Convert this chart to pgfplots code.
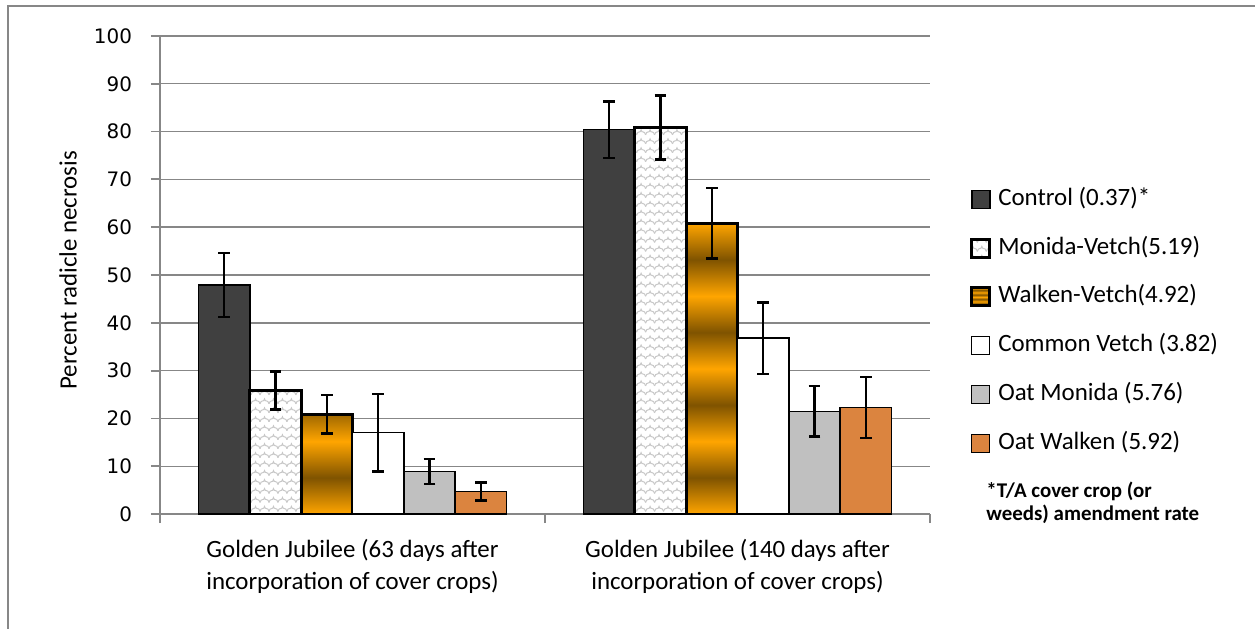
\documentclass[border=0pt]{standalone}
\usepackage{pgfplots}
\pgfplotsset{compat=1.18}
\usepackage{fontspec}
\setmainfont{Carlito}
\newfontfamily\tickfont{DejaVu Sans}
\usetikzlibrary{patterns}
\definecolor{ctrl}{HTML}{404040}
\definecolor{oatmon}{HTML}{C0C0C0}
\definecolor{oatwalk}{HTML}{DB843F}
\definecolor{wgold}{HTML}{FFA500}
\definecolor{wbrown}{HTML}{7F5300}
\definecolor{gridgray}{HTML}{878787}
\definecolor{scal}{HTML}{C8C8C8}
\pgfdeclareverticalshading{goldstripe}{100bp}{color(0bp)=(wgold); color(25bp)=(wgold); color(31.25bp)=(wbrown); color(37.5bp)=(wgold); color(43.75bp)=(wbrown); color(50bp)=(wgold); color(56.25bp)=(wbrown); color(62.5bp)=(wgold); color(68.75bp)=(wbrown); color(75bp)=(wgold); color(100bp)=(wgold)}
\pgfdeclarepatternformonly{scallops}{\pgfqpoint{-1pt}{-1pt}}{\pgfqpoint{5.5pt}{5.5pt}}{\pgfqpoint{4.5pt}{4.5pt}}{%
  \pgfsetlinewidth{0.5pt}%
  \pgfpathmoveto{\pgfqpoint{0pt}{0.5pt}}%
  \pgfpathcurveto{\pgfqpoint{0.5pt}{3pt}}{\pgfqpoint{2pt}{1pt}}{\pgfqpoint{2.25pt}{3pt}}%
  \pgfpathcurveto{\pgfqpoint{2.5pt}{1pt}}{\pgfqpoint{4pt}{3pt}}{\pgfqpoint{4.5pt}{0.5pt}}%
  \pgfusepath{stroke}%
}
\pgfplotsset{/pgfplots/ybar legend/.style={/pgfplots/legend image code/.code={\draw[##1] (0bp,-4.5bp) rectangle (9bp,4.5bp);}}}
\newcommand{\legpad}[1]{\hspace*{3.5bp}#1}
\begin{document}
\begin{tikzpicture}
\path[use as bounding box] (-80bp,-57.5bp) rectangle (547.5bp,257bp);
\draw[gridgray, line width=1bp] (-76bp,-57.5bp) -- (-76bp,254bp) -- (547.5bp,254bp);
\begin{axis}[
  at={(0,0)}, anchor=south west,
  scale only axis, width=385bp, height=239bp,
  ybar=0pt, bar width=0.13333,
  xmin=-0.5, xmax=1.5, ymin=0, ymax=100,
  axis lines*=left,
  axis line style={gridgray, line width=0.9bp},
  tick style={gridgray, line width=0.9bp},
  tick align=outside,
  major tick length=4.5bp,
  ytick={0,10,...,100},
  ymajorgrids,
  grid style={gridgray, line width=0.7bp},
  xtick={-0.5,0.5,1.5},
  xticklabels={},
  extra x ticks={0,1},
  extra x tick labels={{Golden Jubilee (63 days after\\incorporation of cover crops)},{Golden Jubilee (140 days after\\incorporation of cover crops)}},
  extra x tick style={major tick length=0pt, grid=none},
  xticklabel style={align=center, font=\fontsize{12.5}{16}\selectfont, yshift=-9pt},
  /pgf/number format/assume math mode=true,
  yticklabel style={font=\tickfont\fontsize{10}{12}\selectfont, xshift=-6bp},
  ylabel={Percent radicle necrosis},
  every axis y label/.style={at={(axis description cs:-0.1195,0.51)}, rotate=90, anchor=center, font=\fontsize{12.5}{15}\selectfont},
  legend style={at={(axis description cs:1.044,0.6925)}, anchor=north west, draw=none, fill=none,
    font=\fontsize{12.5}{15}\selectfont, row sep=12.4bp,
    nodes={inner sep=0pt, text height=9bp, text depth=3bp}},
  legend cell align=left,
  error bars/y dir=both, error bars/y explicit,
  error bars/error bar style={line width=1.3bp, black, solid},
  error bars/error mark options={rotate=90, mark size=2.9bp, line width=1.3bp, black},
]
\addplot[draw=black, fill=ctrl, line width=0.8bp] coordinates {(0,47.9) +- (0,6.7) (1,80.4) +- (0,5.9)};
\addlegendentry{\legpad{Control (0.37)*}}
\addplot[draw=black, fill=white, line width=1.5bp, postaction={pattern=scallops, pattern color=scal}] coordinates {(0,25.8) +- (0,4.0) (1,80.9) +- (0,6.7)};
\addlegendentry{\legpad{Monida-Vetch(5.19)}}
\addplot[draw=black, shade, shading=goldstripe, line width=1.5bp] coordinates {(0,20.9) +- (0,4.0) (1,60.8) +- (0,7.4)};
\addlegendentry{\legpad{Walken-Vetch(4.92)}}
\addplot[draw=black, fill=white, line width=0.7bp] coordinates {(0,17.0) +- (0,8.1) (1,36.8) +- (0,7.5)};
\addlegendentry{\legpad{Common Vetch (3.82)}}
\addplot[draw=black, fill=oatmon, line width=0.7bp] coordinates {(0,8.9) +- (0,2.6) (1,21.5) +- (0,5.3)};
\addlegendentry{\legpad{Oat Monida (5.76)}}
\addplot[draw=black, fill=oatwalk, line width=0.7bp] coordinates {(0,4.7) +- (0,1.9) (1,22.3) +- (0,6.4)};
\addlegendentry{\legpad{Oat Walken (5.92)}}
\end{axis}
\node[anchor=north west, align=left, font=\fontsize{10.5}{11.5}\selectfont\bfseries, inner sep=0pt] at (413bp,16bp) {*T/A cover crop (or\\weeds) amendment rate};
\end{tikzpicture}
\end{document}
